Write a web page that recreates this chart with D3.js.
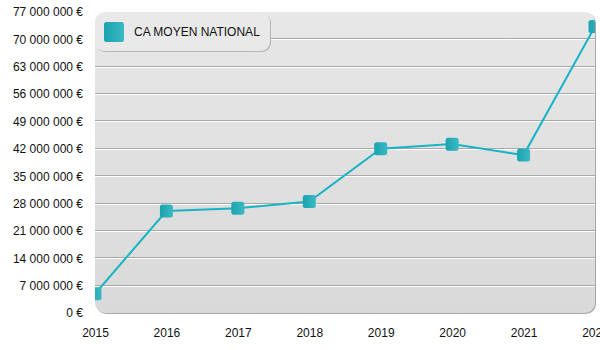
<!DOCTYPE html>
<html>
<head>
<meta charset="utf-8">
<script src="https://cdn.jsdelivr.net/npm/d3@7"></script>
<style>
  html, body { margin: 0; padding: 0; background: #fff; }
  svg { display: block; font-family: "Liberation Sans", Arial, Helvetica, sans-serif; }
</style>
</head>
<body>
<svg id="chart" width="600" height="350"></svg>
<script>
// Chiffre d'affaires moyen national par année
const years = ["2015", "2016", "2017", "2018", "2019", "2020", "2021", "2022"];
const caMoyen = [4900000, 26100000, 26800000, 28500000, 42000000, 43200000, 40400000, 73300000];
const yTicks = [0, 7000000, 14000000, 21000000, 28000000, 35000000, 42000000, 49000000, 56000000, 63000000, 70000000, 77000000];
const seriesName = "CA MOYEN NATIONAL";

const W = 600, H = 350;
const plot = { left: 95, right: 595, top: 12, bottom: 313 };

const svg = d3.select("#chart");
const defs = svg.append("defs");

const bg = defs.append("linearGradient").attr("id", "bgGrad")
  .attr("x1", 0).attr("y1", 0).attr("x2", 0).attr("y2", 1);
bg.append("stop").attr("offset", "0%").attr("stop-color", "#e7e7e7");
bg.append("stop").attr("offset", "100%").attr("stop-color", "#d9d9d9");

const mk = defs.append("linearGradient").attr("id", "mkGrad")
  .attr("x1", 0).attr("y1", 0).attr("x2", 1).attr("y2", 0);
mk.append("stop").attr("offset", "0%").attr("stop-color", "#1aa3ae");
mk.append("stop").attr("offset", "100%").attr("stop-color", "#3ab9c4");

defs.append("clipPath").attr("id", "plotClip")
  .append("rect")
  .attr("x", plot.left).attr("y", plot.top)
  .attr("width", plot.right - plot.left).attr("height", plot.bottom - plot.top)
  .attr("rx", 10);

const x = d3.scalePoint().domain(years).range([plot.left, plot.right]);
const y = d3.scaleLinear().domain([0, 77000000]).range([plot.bottom, plot.top]);

// plot panel with a soft edge on the right and bottom
svg.append("rect")
  .attr("x", plot.left + 1).attr("y", plot.top + 1)
  .attr("width", plot.right - plot.left).attr("height", plot.bottom - plot.top)
  .attr("rx", 10).attr("fill", "#a9a9a9");
svg.append("rect")
  .attr("x", plot.left).attr("y", plot.top)
  .attr("width", plot.right - plot.left).attr("height", plot.bottom - plot.top)
  .attr("rx", 10).attr("fill", "url(#bgGrad)");

// grid lines: grey stroke with a white highlight beneath
const gridVals = yTicks.filter(v => v > 0 && v < 77000000);
const grid = svg.append("g").attr("clip-path", "url(#plotClip)");
grid.selectAll("line.dark").data(gridVals).enter().append("line")
  .attr("x1", plot.left).attr("x2", plot.right)
  .attr("y1", d => Math.round(y(d)) - 0.5).attr("y2", d => Math.round(y(d)) - 0.5)
  .attr("stroke", "#a8a8a8").attr("stroke-width", 1);
grid.selectAll("line.light").data(gridVals).enter().append("line")
  .attr("x1", plot.left).attr("x2", plot.right)
  .attr("y1", d => Math.round(y(d)) + 0.5).attr("y2", d => Math.round(y(d)) + 0.5)
  .attr("stroke", "#ffffff").attr("stroke-width", 1);

// y axis labels
const fmt = v => d3.format(",")(v).replace(/,/g, " ") + " €";
const yAxis = d3.axisLeft(y).tickValues(yTicks).tickFormat(fmt).tickSize(0).tickPadding(12);
const gy = svg.append("g").attr("transform", `translate(${plot.left},0)`).call(yAxis);
gy.select(".domain").remove();
gy.selectAll("text").attr("font-size", 12).attr("fill", "#111")
  .attr("font-family", "'Liberation Sans', Arial, sans-serif");

// x axis labels
const xAxis = d3.axisBottom(x).tickSize(0).tickPadding(12);
const gx = svg.append("g").attr("transform", `translate(0,${plot.bottom + 3})`).call(xAxis);
gx.select(".domain").remove();
gx.selectAll("text").attr("font-size", 12).attr("fill", "#111")
  .attr("font-family", "'Liberation Sans', Arial, sans-serif");

// series line and markers
const data = years.map((yr, i) => ({ year: yr, value: caMoyen[i] }));
const series = svg.append("g").attr("clip-path", "url(#plotClip)");
series.append("path").datum(data)
  .attr("fill", "none").attr("stroke", "#17b4c6").attr("stroke-width", 2)
  .attr("d", d3.line().x(d => x(d.year)).y(d => y(d.value)));
series.selectAll("rect.pt").data(data).enter().append("rect")
  .attr("class", "pt")
  .attr("x", d => x(d.year) - 6.5).attr("y", d => y(d.value) - 6.5)
  .attr("width", 13).attr("height", 13).attr("rx", 2.5)
  .attr("fill", "url(#mkGrad)");

// legend
const lg = svg.append("g").attr("transform", "translate(95,13)");
lg.append("rect").attr("x", 1).attr("y", 1).attr("width", 175).attr("height", 38)
  .attr("rx", 9).attr("fill", "#b5b5b5");
lg.append("rect").attr("x", 0).attr("y", 0).attr("width", 175).attr("height", 38)
  .attr("rx", 9).attr("fill", "#e9e9e9");
lg.append("rect").attr("x", 9).attr("y", 9).attr("width", 20).attr("height", 20)
  .attr("rx", 2.5).attr("fill", "url(#mkGrad)");
lg.append("text").attr("x", 39).attr("y", 19).attr("dy", "0.35em")
  .attr("font-size", 12).attr("fill", "#111").text(seriesName);
</script>
</body>
</html>
